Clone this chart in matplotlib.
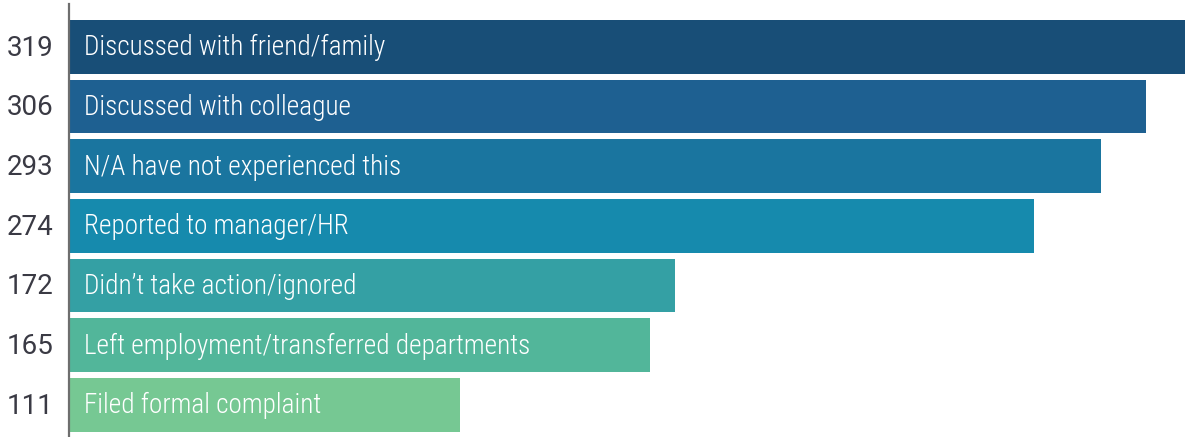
import matplotlib
matplotlib.use("Agg")
import matplotlib.pyplot as plt
from matplotlib import font_manager

categories = [
    "Discussed with friend/family",
    "Discussed with colleague",
    "N/A have not experienced this",
    "Reported to manager/HR",
    "Didn\u2019t take action/ignored",
    "Left employment/transferred departments",
    "Filed formal complaint",
]
values = [319, 306, 293, 274, 172, 165, 111]
colors = ["#184e77", "#1e6091", "#1a759f", "#168aad", "#34a0a4", "#52b69a", "#76c893"]

names = {f.name for f in font_manager.fontManager.ttflist}
if "Roboto Condensed" in names:
    label_family = ["Roboto Condensed", "DejaVu Sans"]
    label_size = 19.6
else:
    label_family = ["Roboto", "DejaVu Sans"]
    label_size = 18

W, H, DPI = 1185, 437, 100
fig = plt.figure(figsize=(W / DPI, H / DPI), dpi=DPI)
ax = fig.add_axes([69 / W, 0, 1 - 69 / W, 1 - 4 / H])

ypos = list(range(len(values)))
ax.barh(ypos, values, height=0.9, color=colors, zorder=2)
ax.set_xlim(0, 317)
ax.set_ylim(6.54, -0.72)

for y, v, c in zip(ypos, values, categories):
    ax.annotate(str(v), xy=(0, y), xytext=(-11, -1), textcoords="offset points",
                ha="right", va="center", fontsize=20, color="#3a3a44",
                family=["Roboto", "DejaVu Sans"])
    ax.annotate(c, xy=(0, y), xytext=(11, -0.7), textcoords="offset points",
                ha="left", va="center", fontsize=label_size, color="white",
                family=label_family, fontweight="light")

for s in ["top", "right", "bottom"]:
    ax.spines[s].set_visible(False)
ax.spines["left"].set_color("#6e6e6e")
ax.spines["left"].set_linewidth(1.6)
ax.spines["left"].set_zorder(3)
ax.set_xticks([])
ax.set_yticks([])

fig.savefig("out.png", dpi=DPI)
